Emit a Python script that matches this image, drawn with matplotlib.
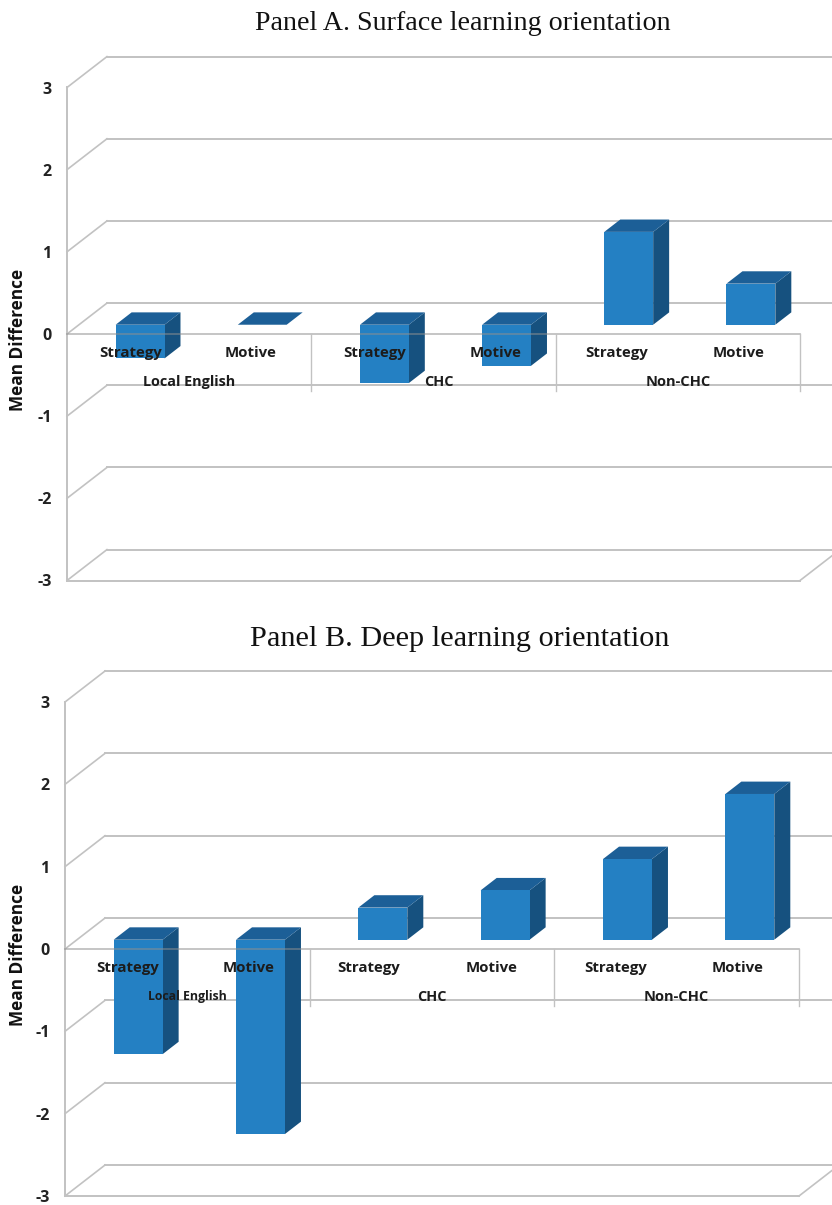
import matplotlib
matplotlib.use('Agg')
import matplotlib.pyplot as plt

W, H = 832, 1205

categories = ['Strategy', 'Motive', 'Strategy', 'Motive', 'Strategy', 'Motive']
groups = ['Local English', 'CHC', 'Non-CHC']
y_ticks = [-3, -2, -1, 0, 1, 2, 3]
surface_values = [-0.41, 0.0, -0.71, -0.5, 1.13, 0.5]
deep_values = [-1.39, -2.36, 0.39, 0.6, 0.98, 1.77]

# depth of the fake 3D box, in data units
DX = 0.327
DY = 0.376
BAR_W = 0.4
BAR_Z = (0.3, 0.7)

GRID = '#c2c2c2'
FRONT = '#2480c3'
TOP = '#1c5f97'
SIDE = '#16517f'
FONT = ['Open Sans', 'DejaVu Sans']


def proj(x, y, z=1.0):
    return x + z * DX, y + z * DY


def draw_bar(ax, i, v):
    l = i - BAR_W / 2
    r = l + BAR_W
    z0, z1 = BAR_Z
    top = max(v, 0)
    if v != 0:
        # side and front faces
        pts = [proj(r, 0, z0), proj(r, 0, z1), proj(r, v, z1), proj(r, v, z0)]
        ax.fill(*zip(*pts), color=SIDE, lw=0, zorder=3, clip_on=False)
        pts = [proj(l, 0, z0), proj(r, 0, z0), proj(r, v, z0), proj(l, v, z0)]
        ax.fill(*zip(*pts), color=FRONT, lw=0, zorder=3.2, clip_on=False)
    pts = [proj(l, top, z0), proj(r, top, z0), proj(r, top, z1), proj(l, top, z1)]
    ax.fill(*zip(*pts), color=TOP, lw=0, zorder=3.1, clip_on=False)


def draw_panel(box, title, title_x, title_y, title_size, values, ylabel_y, label_dx, group_x, group_sizes):
    left, right, top, bottom = box
    ax = fig.add_axes([left / W, 1 - bottom / H, (right - left) / W, (bottom - top) / H])
    ax.set_xlim(-0.5, 5.5)
    ax.set_ylim(-3, 3)
    ax.patch.set_visible(False)
    for s in ax.spines.values():
        s.set_visible(False)
    ax.set_xticks([])
    ax.set_yticks(y_ticks)
    ax.set_yticklabels([str(t) for t in y_ticks], fontsize=11.5, fontweight='bold',
                       family=FONT, color='#222222')
    ax.tick_params(axis='y', length=0, pad=11)

    # walls and gridlines
    for t in y_ticks:
        bx, by = proj(-0.5, t)
        ax.plot([-0.5, bx], [t, by], color=GRID, lw=1.2, zorder=1, clip_on=False)
        ax.plot([bx, 5.5 + DX], [by, by], color=GRID, lw=1.4, zorder=1, clip_on=False)
    ax.plot([-0.5, -0.5], [-3, 3], color=GRID, lw=1.4, zorder=1, clip_on=False)
    ax.plot([-0.5, 5.5], [-3, -3], color=GRID, lw=1.4, zorder=1, clip_on=False)
    ax.plot([5.5, 5.5 + DX], [-3, -3 + DY], color=GRID, lw=1.2, zorder=1, clip_on=False)

    for i, v in enumerate(values):
        draw_bar(ax, i, v)

    # category box in front of the bars
    ax.plot([-0.5, 5.5], [0, 0], color='#8f8f8f', lw=1.2, alpha=0.6, zorder=4, clip_on=False)
    for sep in [1.5, 3.5, 5.5]:
        ax.plot([sep, sep], [0, -0.69], color=GRID, lw=1.0, zorder=4, clip_on=False)

    for i, c in enumerate(categories):
        ax.text(i + label_dx[i], -0.235, c, ha='center', va='center', fontsize=10.8,
                fontweight='bold', family=FONT, color='#1c1c1c', zorder=5)
    for g, gx, fs in zip(groups, group_x, group_sizes):
        ax.text(gx, -0.58, g, ha='center', va='center', fontsize=fs,
                fontweight='bold', family=FONT, color='#1c1c1c', zorder=5)

    fig.text(title_x / W, 1 - title_y / H, title, ha='center', va='center',
             fontsize=title_size, family='Liberation Serif', color='#111111')
    fig.text(18 / W, 1 - ylabel_y / H, 'Mean Difference', rotation=90, ha='center', va='center',
             fontsize=12.4, fontweight='bold', family=FONT, color='#111111')
    return ax


fig = plt.figure(figsize=(W / 100, H / 100), dpi=100, facecolor='white')

draw_panel((67, 800, 87.5, 580.5), 'Panel A. Surface learning orientation', 463, 23, 20.2, surface_values, 340,
           [0.02, 0.0, 0.02, 0.01, 0.0, 0.0], [0.5, 2.54, 4.5], [10.4, 10.4, 10.5])
draw_panel((65, 799, 702, 1196), 'Panel B. Deep learning orientation', 460, 639, 21.8, deep_values, 955,
           [0.01, 0.0, -0.02, -0.01, 0.0, 0.0], [0.5, 2.5, 4.5], [8.8, 10.4, 10.5])

fig.savefig('out.png', dpi=100)
